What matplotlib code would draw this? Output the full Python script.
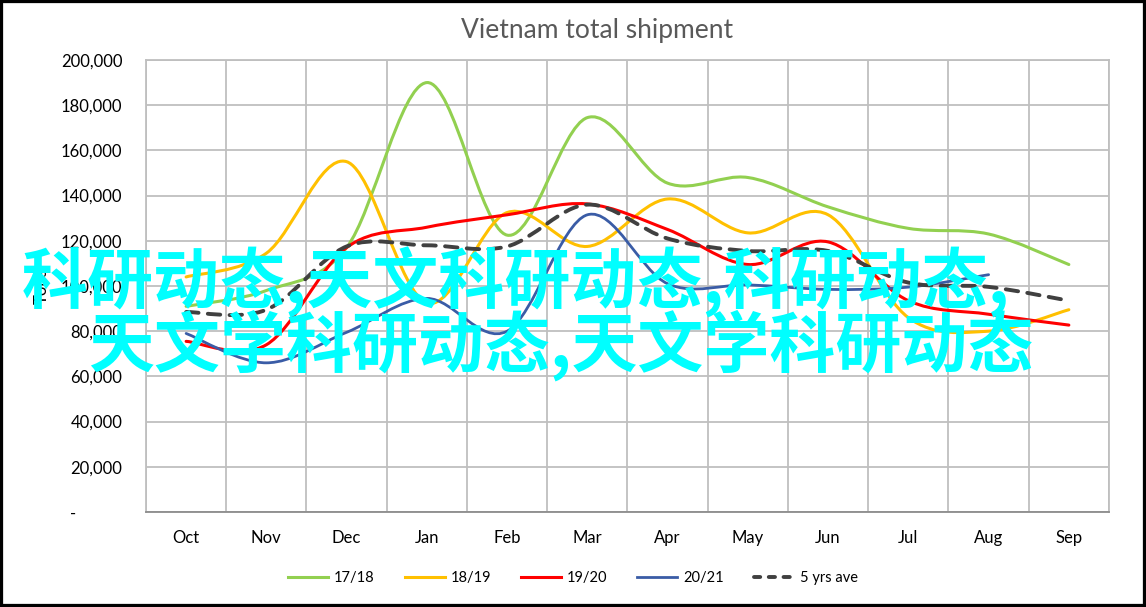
import matplotlib
matplotlib.use("Agg")
import matplotlib.pyplot as plt
import numpy as np
from matplotlib.path import Path
from matplotlib.patches import PathPatch, Rectangle
from matplotlib.lines import Line2D
from matplotlib.ticker import FuncFormatter, MultipleLocator

plt.rcParams["font.family"] = ["Lato", "DejaVu Sans"]

months = ["Oct", "Nov", "Dec", "Jan", "Feb", "Mar", "Apr", "May", "Jun", "Jul", "Aug", "Sep"]

s1718 = [91000, 98000, 117000, 190000, 122500, 174500, 145500, 148000, 135000, 125500, 123000, 109500]
s1819 = [104000, 114500, 155000, 92500, 132500, 117500, 138500, 123500, 131500, 86000, 80000, 89500]
s1920 = [75500, 74000, 117000, 126000, 131500, 136300, 125000, 109500, 119500, 93500, 87500, 82700]
s2021 = [79000, 66000, 79500, 94500, 80000, 131500, 101000, 100500, 98500, 99500, 105000]
ave5 = [88500, 89500, 117500, 118000, 117500, 136000, 121000, 115500, 115500, 101500, 99600, 93500]

series_labels = ["17/18", "18/19", "19/20", "20/21", "5 yrs ave"]
series_colors = ["#92D050", "#FFC000", "#FF0000", "#3A5CA6", "#404040"]

watermark_1 = "科研动态,天文科研动态,科研动态,"
watermark_2 = "天文学科研动态,天文学科研动态"


def smooth_path(values: list) -> Path:
    """Excel-style smoothed line: cubic Bezier segments through every point."""
    y = np.asarray(values, dtype=float)
    x = np.arange(len(y), dtype=float)
    pts = np.column_stack([x, y])
    verts = [pts[0]]
    codes = [Path.MOVETO]
    n = len(pts)
    for i in range(n - 1):
        p_prev = pts[max(i - 1, 0)]
        p0 = pts[i]
        p1 = pts[i + 1]
        p_next = pts[min(i + 2, n - 1)]
        c1 = p0 + (p1 - p_prev) / 6
        c2 = p1 - (p_next - p0) / 6
        verts += [c1, c2, p1]
        codes += [Path.CURVE4] * 3
    return Path(verts, codes)


fig = plt.figure(figsize=(11.46, 6.07), dpi=100)
ax = fig.add_axes([0.1274, 0.1565, 0.8403, 0.7447])

all_series = [s1718, s1819, s1920, s2021, ave5]
widths = [2.2, 2.2, 2.2, 2.0, 2.8]
handles = []
for vals, color, lw, label in zip(all_series, series_colors, widths, series_labels):
    dashed = label == "5 yrs ave"
    patch = PathPatch(smooth_path(vals), facecolor="none", edgecolor=color, lw=lw,
                      zorder=3, capstyle="round")
    if dashed:
        patch.set_linestyle((0, (3.2, 2.4)))
    ax.add_patch(patch)
    handles.append(Line2D([], [], color=color, lw=lw,
                          linestyle=(0, (1.6, 2.2)) if dashed else "-",
                          dash_capstyle="round", label=label))

ax.set_xlim(-0.5, len(months) - 0.5)
ax.set_ylim(0, 200000)
ax.set_xticks(range(len(months)))
ax.set_xticklabels(months)
ax.xaxis.set_minor_locator(MultipleLocator(1, offset=0.5))
ax.yaxis.set_major_locator(MultipleLocator(20000))
ax.yaxis.set_major_formatter(FuncFormatter(
    lambda v, p: "-" + " " * 11 if v == 0 else f"{int(v):,}"))

ax.grid(which="minor", axis="x", color="#BFBFBF", lw=1.3)
ax.grid(which="major", axis="y", color="#BFBFBF", lw=1.3)
ax.set_axisbelow(True)
for side in ["top", "right", "left"]:
    ax.spines[side].set_color("#BFBFBF")
    ax.spines[side].set_linewidth(1.3)
ax.spines["bottom"].set_color("#8C8C8C")
ax.spines["bottom"].set_linewidth(1.3)
ax.tick_params(which="both", length=0, labelsize=12, colors="#000000")
ax.tick_params(axis="x", pad=13)
ax.tick_params(axis="y", pad=17)

ax.set_ylabel("Tons", fontsize=12)
ax.yaxis.set_label_coords(-0.10, 0.5)

fig.text(0.521, 0.95, "Vietnam total shipment", ha="center", va="center",
         fontsize=19, color="#595959")

fig.legend(handles=handles, loc="center", bbox_to_anchor=(0.5, 0.047), ncol=5,
           frameon=False, fontsize=10.5, handlelength=2.75, columnspacing=2.05,
           handletextpad=0.4)

# watermark overlay text
fig.text(0.019, 0.535, watermark_1, ha="left", va="center", fontsize=47.5,
         fontweight="bold", color="#00FFFF", family=["Noto Sans CJK SC", "DejaVu Sans"],
         zorder=10)
fig.text(0.077, 0.432, watermark_2, ha="left", va="center", fontsize=47.5,
         fontweight="bold", color="#00FFFF", family=["Noto Sans CJK SC", "DejaVu Sans"],
         zorder=10)

fig.patches.append(Rectangle((0, 0), 1, 1, transform=fig.transFigure, fill=False,
                             ec="black", lw=4.5, zorder=20))

fig.savefig("out.png", dpi=100)
